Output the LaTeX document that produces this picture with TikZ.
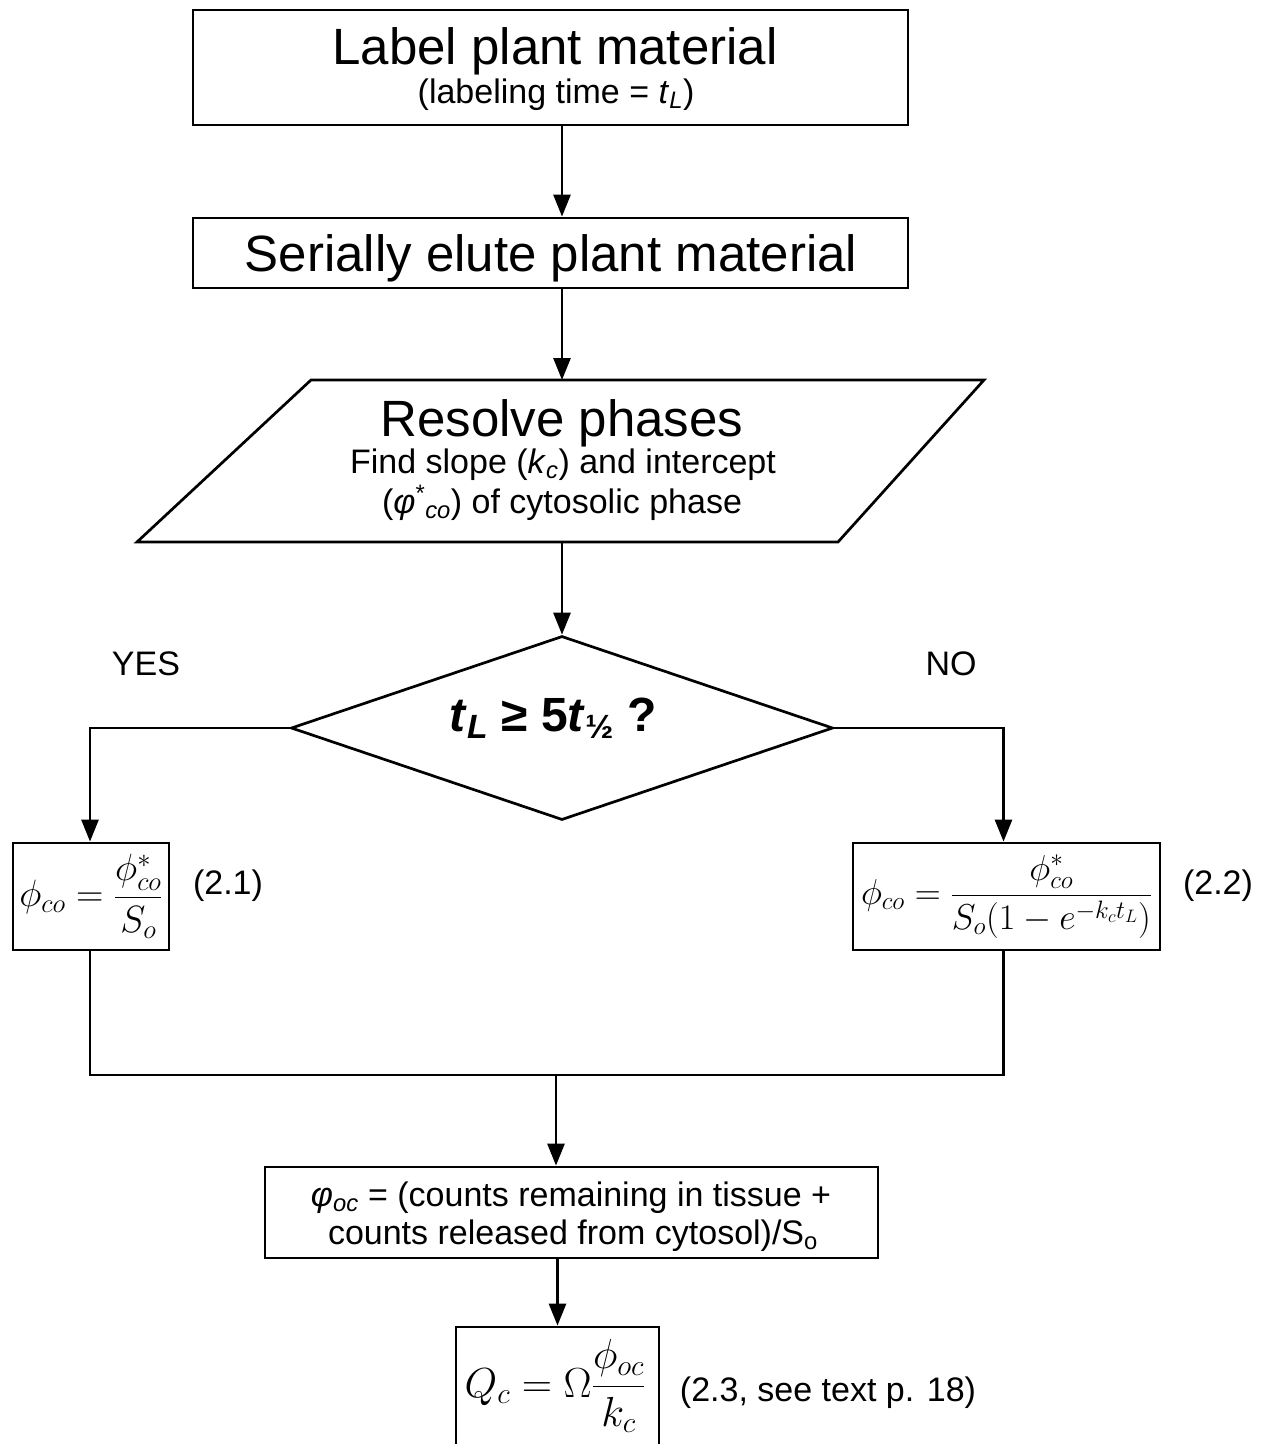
\RequirePackage{fix-cm}
\documentclass[tikz,border=0pt]{standalone}
\usepackage{amsmath}
\usepackage{fontspec}
\setmainfont{Liberation Sans}
\usetikzlibrary{arrows.meta,shapes.geometric}
\tikzset{
  box/.style={draw,line width=2.8pt,inner sep=0pt},
  arr/.style={line width=2.7pt,-{Triangle[length=22pt,width=17pt]}},
  ln/.style={line width=2.7pt},
  lbl/.style={inner sep=0pt,anchor=center,align=center}
}
\newcommand{\fsz}[1]{\fontsize{#1}{#1}\selectfont}
\begin{document}
\begin{tikzpicture}[x=1pt,y=-1pt]
\useasboundingbox (0,0) rectangle (1264,1444);
\coordinate (cx) at (562,0);
% box 1
\node[box,minimum width=715pt,minimum height=115pt] (b1) at (550.5,67.5) {};
\node[lbl] (t1a) at (555,51) {\fsz{51}Label plant material};
\node[lbl] (t1b) at (556,95) {\fsz{34}(labeling time = \textit{t}\textsubscript{\textit{L}})};
% box 2
\node[box,minimum width=715pt,minimum height=70pt] (b2) at (550.5,253) {};
\node[lbl] (t2) at (551,258) {\fsz{51}Serially elute plant material};
% parallelogram
\coordinate (p1) at (311,380);
\coordinate (p2) at (984,380);
\coordinate (p3) at (838,542);
\coordinate (p4) at (137,542);
\draw[ln] (p1) -- (p2) -- (p3) -- (p4) -- cycle;
\coordinate (ptop) at (562,380);
\coordinate (pbot) at (562,542);
\node[lbl] (t3a) at (562,423) {\fsz{51}Resolve phases};
\node[lbl] (t3b) at (563,465) {\fsz{34}Find slope (\textit{k}\textsubscript{\textit{c}}) and intercept};
\node[lbl] (t3c) at (562,503) {\fsz{34}(\textit{φ}\textsuperscript{*}\textsubscript{\textit{co}}) of cytosolic phase};
% diamond
\node[draw,ln,diamond,inner sep=0pt,minimum width=542pt,minimum height=184pt] (dia) at (562,728) {};
\node[lbl] (t4) at (553,718) {\fsz{48}\bfseries\textit{t}\textsubscript{\textit{L}} ≥ 5\textit{t}\textsubscript{½} ?};
\node[lbl] (yes) at (146,664) {\fsz{34}YES};
\node[lbl] (no) at (951,664) {\fsz{34}NO};
% formula boxes
\node[box,minimum width=156pt,minimum height=107pt] (bL) at (91,896.5) {\fsz{38}$\phi_{co}=\dfrac{\phi^{*}_{co}}{S_o}$};
\node[box,minimum width=307pt,minimum height=107pt] (bR) at (1006.5,896.5) {\fsz{36}$\phi_{co}=\dfrac{\phi^{*}_{co}}{S_o(1-e^{-k_c t_L})}$};
\node[lbl] (e1) at (228,886) {\fsz{34}(2.1)};
\node[lbl] (e2) at (1218,886) {\fsz{34}(2.2)};
% phi_oc box
\node[box,minimum width=613pt,minimum height=91pt] (oc) at (571.5,1212.5) {};
\node[lbl] (t5a) at (571,1198) {\fsz{34}\textit{φ}\textsubscript{\textit{oc}} = (counts remaining in tissue +};
\node[lbl] (t5b) at (573,1236) {\fsz{34}counts released from cytosol)/S\textsubscript{o}};
% Q box
\node[box,minimum width=203pt,minimum height=152pt] (q) at (557.5,1403) {};
\node[lbl] (t6) at (555,1386) {\fsz{42}$Q_c=\Omega\dfrac{\phi_{oc}}{k_c}$};
\node[lbl] (e3) at (828,1393) {\fsz{34}(2.3, see text p. 18)};
% connectors
\draw[arr] (b1.south -| cx) -- (b2.north -| cx);
\draw[arr] (b2.south -| cx) -- (ptop);
\draw[arr] (pbot) -- (dia.north);
\draw[arr] (dia.west) -| ([xshift=-1pt]bL.north);
\draw[arr] (dia.east) -| ([xshift=-3pt]bR.north);
\coordinate (m) at (556,1075);
\draw[ln] ([xshift=-1pt]bL.south) |- (m);
\draw[ln] ([xshift=-3pt]bR.south) |- (m);
\draw[arr] (m) -- (m |- oc.north);
\draw[arr] (q.north |- oc.south) -- (q.north);
\end{tikzpicture}
\end{document}
